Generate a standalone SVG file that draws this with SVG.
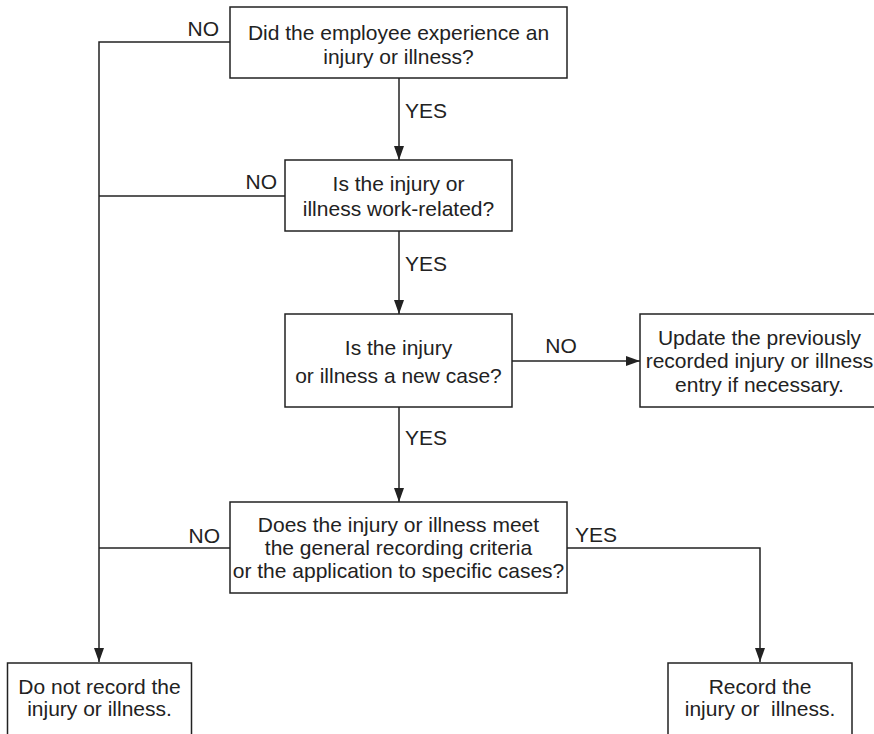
<svg xmlns="http://www.w3.org/2000/svg" width="874" height="734" viewBox="0 0 874 734">
<defs>
<style>
rect.box{fill:#fff;stroke:#222;stroke-width:1.5}
text{font-family:"Liberation Sans",Arial,sans-serif;font-size:21px;fill:#222}
.c{text-anchor:middle}
.e{text-anchor:end}
#connectors path{fill:none;stroke:#222;stroke-width:1.5}
</style>
<marker id="arr" markerUnits="userSpaceOnUse" markerWidth="16" markerHeight="12" refX="14" refY="5" orient="auto">
<path d="M0,0 L14,5 L0,10 Z" fill="#222"/>
</marker>
</defs>
<rect width="874" height="734" fill="#fff"/>
<g id="connectors">
<path d="M399,78 V160" marker-end="url(#arr)"/>
<path d="M230,42 H99 V662" marker-end="url(#arr)"/>
<path d="M285,196 H99"/>
<path d="M399,231 V314" marker-end="url(#arr)"/>
<path d="M512,361 H640" marker-end="url(#arr)"/>
<path d="M399,407 V502" marker-end="url(#arr)"/>
<path d="M230,548 H99"/>
<path d="M567,548 H760 V662" marker-end="url(#arr)"/>
<text class="e" x="219" y="36">NO</text>
<text x="405" y="118">YES</text>
<text class="e" x="277" y="189">NO</text>
<text x="405" y="271">YES</text>
<text class="c" x="561" y="353">NO</text>
<text x="405" y="445">YES</text>
<text class="e" x="220" y="543">NO</text>
<text x="575" y="542">YES</text>
</g>
<g id="q1">
<rect class="box" x="230" y="7" width="337" height="71"/>
<text class="c" x="398.5" y="40">Did the employee experience an</text>
<text class="c" x="398.5" y="64">injury or illness?</text>
</g>
<g id="q2">
<rect class="box" x="285" y="160" width="227" height="71"/>
<text class="c" x="398.5" y="191">Is the injury or</text>
<text class="c" x="398.5" y="216">illness work-related?</text>
</g>
<g id="q3">
<rect class="box" x="285" y="314" width="227" height="93"/>
<text class="c" x="398.5" y="355">Is the injury</text>
<text class="c" x="398.5" y="383">or illness a new case?</text>
</g>
<g id="update">
<rect class="box" x="640" y="314" width="239" height="93"/>
<text class="c" x="759.5" y="345">Update the previously</text>
<text class="c" x="759.5" y="368">recorded injury or illness</text>
<text class="c" x="759.5" y="392">entry if necessary.</text>
</g>
<g id="q4">
<rect class="box" x="230" y="502" width="337" height="91"/>
<text class="c" x="398.5" y="532">Does the injury or illness meet</text>
<text class="c" x="398.5" y="555">the general recording criteria</text>
<text class="c" x="398.5" y="578">or the application to specific cases?</text>
</g>
<g id="norecord">
<rect class="box" x="7.5" y="663" width="184" height="100"/>
<text class="c" x="99.5" y="694">Do not record the</text>
<text class="c" x="99.5" y="716">injury or illness.</text>
</g>
<g id="record">
<rect class="box" x="668" y="663" width="184" height="100"/>
<text class="c" x="760" y="694">Record the</text>
<text class="c" x="760" y="716" xml:space="preserve">injury or  illness.</text>
</g>
</svg>
